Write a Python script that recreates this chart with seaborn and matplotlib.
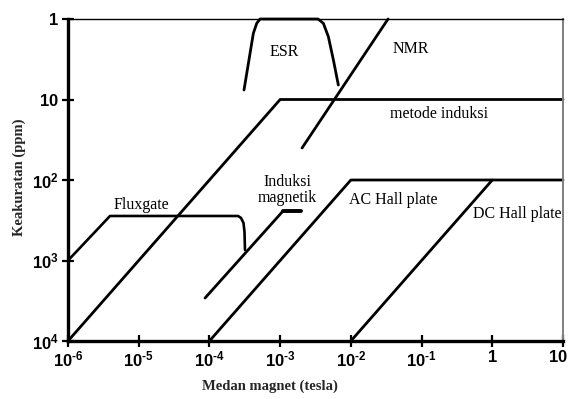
import numpy as np
import pandas as pd
import matplotlib
matplotlib.use('Agg')
import matplotlib.pyplot as plt
import matplotlib.transforms as mtransforms
import seaborn as sns

# ---- data (field in tesla, accuracy in ppm) ----
metode_x = [1e-6, 1e-3, 10.0]
metode_y = [1e4, 10.0, 10.0]

fluxgate_logx = [-6.0, -5.406, -3.595, -3.553, -3.518, -3.504, -3.497]
fluxgate_logy = [3.0, 2.447, 2.447, 2.472, 2.534, 2.646, 2.870]

esr_logx = [-3.511, -3.379, -3.331, -3.284, -2.464, -2.389, -2.318, -2.247, -2.177]
esr_logy = [0.882, 0.178, 0.053, 0.0, 0.0, 0.053, 0.220, 0.509, 0.820]

nmr_logx = [-2.690, -1.474]
nmr_logy = [1.602, 0.0]

induksi_logx = [-4.062, -2.959]
induksi_logy = [3.466, 2.385]
induksi_bar_logx = [-2.959, -2.704]
induksi_bar_logy = [2.385, 2.385]

ac_x = [1e-4, 1e-2, 10.0]
ac_y = [1e4, 1e2, 1e2]

dc_x = [1e-2, 1.0]
dc_y = [1e4, 1e2]

x_ticks = [1e-6, 1e-5, 1e-4, 1e-3, 1e-2, 1e-1, 1, 10]
x_ticklabels = [r'$10^{\text{-}6}$', r'$10^{\text{-}5}$', r'$10^{\text{-}4}$',
                r'$10^{\text{-}3}$', r'$10^{\text{-}2}$', r'$10^{\text{-}1}$',
                r'$1$', r'$10$']
y_ticks = [1, 10, 1e2, 1e3, 1e4]
y_ticklabels = [r'$1$', r'$10$', r'$10^{2}$', r'$10^{3}$', r'$10^{4}$']

labels = ['ESR', 'NMR', 'metode induksi', 'Induksi\nmagnetik', 'Fluxgate',
          'AC Hall plate', 'DC Hall plate']

# ---- style ----
sns.set_theme(style='white')
plt.rcParams['font.family'] = ['Liberation Serif', 'DejaVu Serif']
plt.rcParams['mathtext.fontset'] = 'custom'
plt.rcParams['mathtext.rm'] = 'Liberation Sans:bold'
plt.rcParams['mathtext.it'] = 'Liberation Sans:bold'
plt.rcParams['mathtext.bf'] = 'Liberation Sans:bold'

fig = plt.figure(figsize=(5.71, 3.99), dpi=100)
ax = fig.add_axes([68/571, 1-341/399, (563-68)/571, (341-19)/399])

def draw(x, y, lw=2.0):
    df = pd.DataFrame({'x': x, 'y': y})
    sns.lineplot(data=df, x='x', y='y', sort=False, estimator=None,
                 color='black', lw=lw, ax=ax, clip_on=False)

p = lambda a: 10 ** np.asarray(a, dtype=float)

draw(metode_x, metode_y)
draw(p(fluxgate_logx), p(fluxgate_logy), lw=1.9)
draw(p(esr_logx), p(esr_logy), lw=2.0)
draw(p(nmr_logx), p(nmr_logy), lw=2.0)
draw(p(induksi_logx), p(induksi_logy), lw=2.0)
draw(p(induksi_bar_logx), p(induksi_bar_logy), lw=2.8)
draw(ac_x, ac_y)
draw(dc_x, dc_y)

ax.set_xscale('log')
ax.set_yscale('log')
ax.set_xlim(1e-6, 10)
ax.set_ylim(1e4, 1)

ax.xaxis.set_minor_locator(matplotlib.ticker.NullLocator())
ax.yaxis.set_minor_locator(matplotlib.ticker.NullLocator())
ax.set_xticks(x_ticks)
ax.set_xticklabels(x_ticklabels)
ax.set_yticks(y_ticks)
ax.set_yticklabels(y_ticklabels)
ax.tick_params(axis='both', which='major', direction='inout', length=9,
               width=1.6, color='black', labelsize=12, labelcolor='black',
               bottom=True, left=True)
ax.tick_params(axis='x', pad=2)
ax.tick_params(axis='y', pad=2)

# nudge the last x tick label so it stays inside the figure
last = ax.get_xticklabels()[-1]
last.set_transform(last.get_transform() +
                   mtransforms.ScaledTranslation(-5/100, 0, fig.dpi_scale_trans))

for s in ['left', 'bottom']:
    ax.spines[s].set_linewidth(2.4)
    ax.spines[s].set_color('black')
ax.spines['top'].set_linewidth(1.0)
ax.spines['top'].set_color('black')
ax.spines['right'].set_linewidth(1.4)
ax.spines['right'].set_color('#7f7f7f')

ax.set_xlabel('Medan magnet (tesla)', fontsize=10.5, fontweight='bold')
ax.set_ylabel('Keakuratan (ppm)', fontsize=10.5, fontweight='bold')
ax.xaxis.set_label_coords((270-68)/495, (341-380)/322)
ax.yaxis.set_label_coords((26-68)/495, (341-177)/322)

txt_pos = [(-2.945, 0.41), (-1.149, 0.373), (-0.753, 1.18), (-2.90, 2.124),
           (-4.967, 2.31), (-1.403, 2.248), (0.351, 2.42)]
for lab, (lx, ly) in zip(labels, txt_pos):
    ax.text(10 ** lx, 10 ** ly, lab, ha='center', va='center', fontsize=11.5,
            color='black', linespacing=0.95)

fig.savefig('out.png', dpi=100)
